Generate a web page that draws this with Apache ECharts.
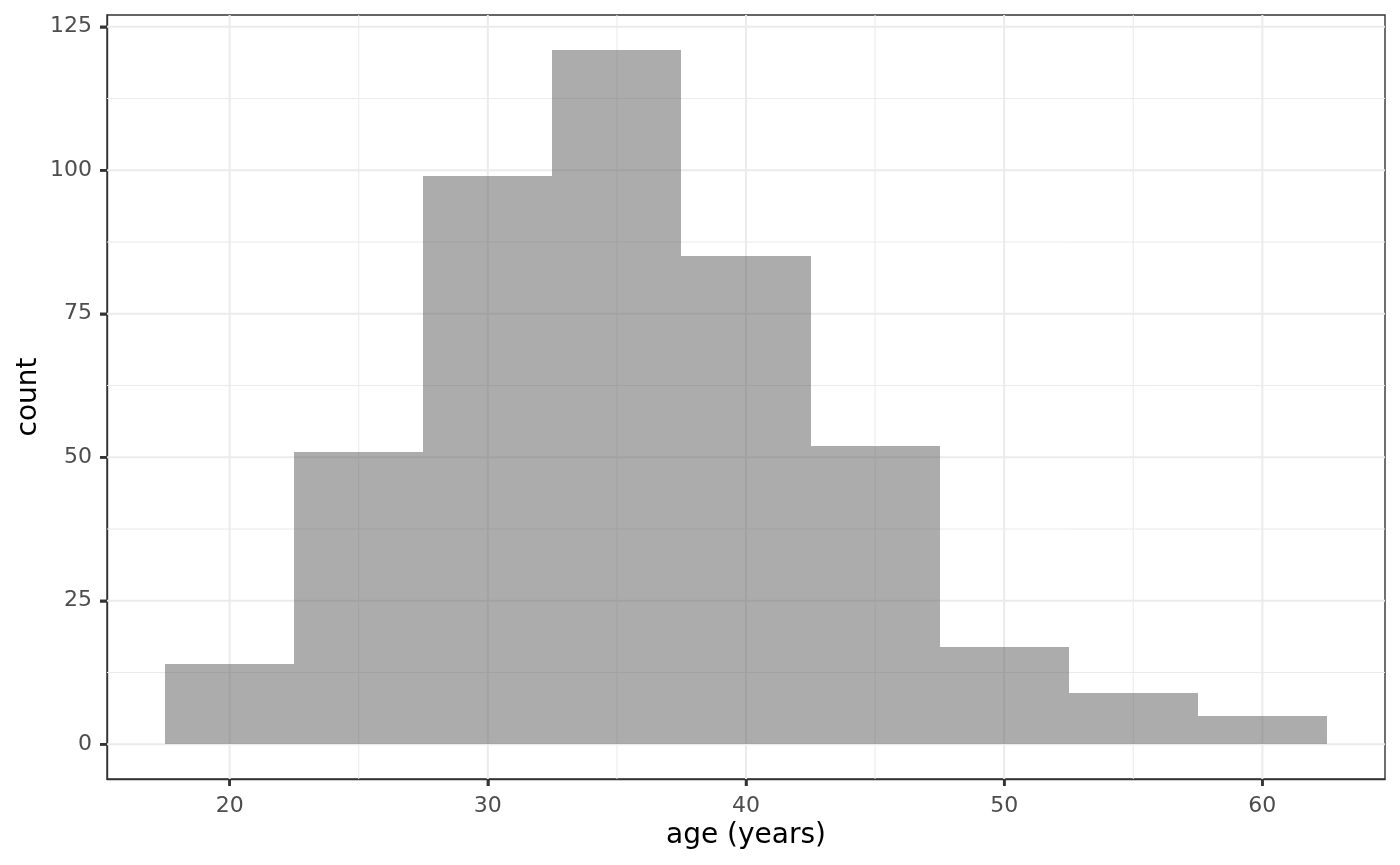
<!DOCTYPE html>
<html>
<head>
<meta charset="utf-8">
<title>age histogram</title>
<script src="https://cdn.jsdelivr.net/npm/echarts@6/dist/echarts.min.js"></script>
<style>
  html, body { margin: 0; padding: 0; background: #fff; }
  #chart { width: 1400px; height: 865px; }
</style>
</head>
<body>
<div id="chart"></div>
<script>
// histogram bins (age, years) and counts
const binEdges = [17.5, 22.5, 27.5, 32.5, 37.5, 42.5, 47.5, 52.5, 57.5, 62.5];
const counts = [14, 51, 99, 121, 85, 52, 17, 9, 5];

// axis ticks
const xTicks = [20, 30, 40, 50, 60];
const xMinor = [25, 35, 45, 55];
const yTicks = [0, 25, 50, 75, 100, 125];
const yMinor = [12.5, 37.5, 62.5, 87.5, 112.5];

// ggplot-style 5% expansion
const xSpan = binEdges[binEdges.length - 1] - binEdges[0];
const xMin = binEdges[0] - xSpan * 0.05;
const xMax = binEdges[binEdges.length - 1] + xSpan * 0.05;
const yTop = Math.max(...counts);
const yMin = -yTop * 0.05;
const yMax = yTop * 1.05;

const font = 'DejaVu Sans';
const dark = '#333333';
const tickLen = 7;
const tickWidth = 2.5;

const bars = counts.map((c, i) => [binEdges[i], binEdges[i + 1], c]);

const gridData = [];
xTicks.forEach(v => gridData.push([v, 0, 1]));
xMinor.forEach(v => gridData.push([v, 0, 0]));
yTicks.forEach(v => gridData.push([v, 1, 1]));
yMinor.forEach(v => gridData.push([v, 1, 0]));

function renderGrid(params, api) {
    const cs = params.coordSys;
    const v = api.value(0);
    const horizontal = api.value(1) === 1;
    const major = api.value(2) === 1;
    let shape;
    if (horizontal) {
        const y = api.coord([xMin, v])[1];
        shape = { x1: cs.x, y1: y, x2: cs.x + cs.width, y2: y };
    } else {
        const x = api.coord([v, yMin])[0];
        shape = { x1: x, y1: cs.y, x2: x, y2: cs.y + cs.height };
    }
    return {
        type: 'line',
        shape: shape,
        style: { stroke: '#EBEBEB', lineWidth: major ? 2 : 1 }
    };
}

function renderBar(params, api) {
    // snap to whole pixels so neighbouring bars meet without a seam
    const p0 = api.coord([api.value(0), api.value(2)]).map(Math.round);
    const p1 = api.coord([api.value(1), 0]).map(Math.round);
    return {
        type: 'rect',
        shape: { x: p0[0], y: p0[1], width: p1[0] - p0[0], height: p1[1] - p0[1] },
        style: { fill: 'rgba(89,89,89,0.5)' }
    };
}

const chart = echarts.init(document.getElementById('chart'), null, { renderer: 'canvas' });

chart.setOption({
    animation: false,
    backgroundColor: '#ffffff',
    grid: {
        left: 107, right: 15, top: 15, bottom: 86,
        show: true, borderColor: dark, borderWidth: 1.4, backgroundColor: '#ffffff'
    },
    xAxis: {
        type: 'value',
        min: xMin,
        max: xMax,
        name: 'age (years)',
        nameLocation: 'middle',
        nameGap: 43,
        nameMoveOverlap: false,
        nameTextStyle: { fontFamily: font, fontSize: 28, color: '#000000' },
        axisLine: { show: true, onZero: false, lineStyle: { color: dark, width: 1.4 } },
        splitLine: { show: false },
        axisTick: { show: true, inside: false, length: tickLen, customValues: xTicks, lineStyle: { color: dark, width: tickWidth } },
        axisLabel: { customValues: xTicks, margin: 16, fontFamily: font, fontSize: 22, color: '#4D4D4D' }
    },
    yAxis: {
        type: 'value',
        min: yMin,
        max: yMax,
        name: 'count',
        nameLocation: 'middle',
        nameGap: 64,
        nameMoveOverlap: false,
        nameRotate: 90,
        nameTextStyle: { fontFamily: font, fontSize: 28, color: '#000000' },
        axisLine: { show: true, onZero: false, lineStyle: { color: dark, width: 1.4 } },
        splitLine: { show: false },
        axisTick: { show: true, inside: false, length: tickLen, customValues: yTicks, lineStyle: { color: dark, width: tickWidth } },
        axisLabel: { customValues: yTicks, margin: 15, fontFamily: font, fontSize: 22, color: '#4D4D4D' }
    },
    series: [
        {
            type: 'custom',
            name: 'grid',
            silent: true,
            z: 1,
            renderItem: renderGrid,
            data: gridData
        },
        {
            type: 'custom',
            name: 'count',
            z: 2,
            renderItem: renderBar,
            encode: { x: [0, 1], y: 2 },
            data: bars
        }
    ]
});

// outward axis ticks as small filled rects, placed through the chart's own scales
const tickMarks = [];
xTicks.forEach(v => {
    const p = chart.convertToPixel({ gridIndex: 0 }, [v, yMin]);
    tickMarks.push({
        type: 'rect', silent: true, z: 100,
        shape: { x: p[0] - tickWidth / 2, y: p[1], width: tickWidth, height: tickLen },
        style: { fill: dark }
    });
});
yTicks.forEach(v => {
    const p = chart.convertToPixel({ gridIndex: 0 }, [xMin, v]);
    tickMarks.push({
        type: 'rect', silent: true, z: 100,
        shape: { x: p[0] - tickLen, y: p[1] - tickWidth / 2, width: tickLen, height: tickWidth },
        style: { fill: dark }
    });
});
chart.setOption({ graphic: { elements: tickMarks } });
</script>
</body>
</html>
